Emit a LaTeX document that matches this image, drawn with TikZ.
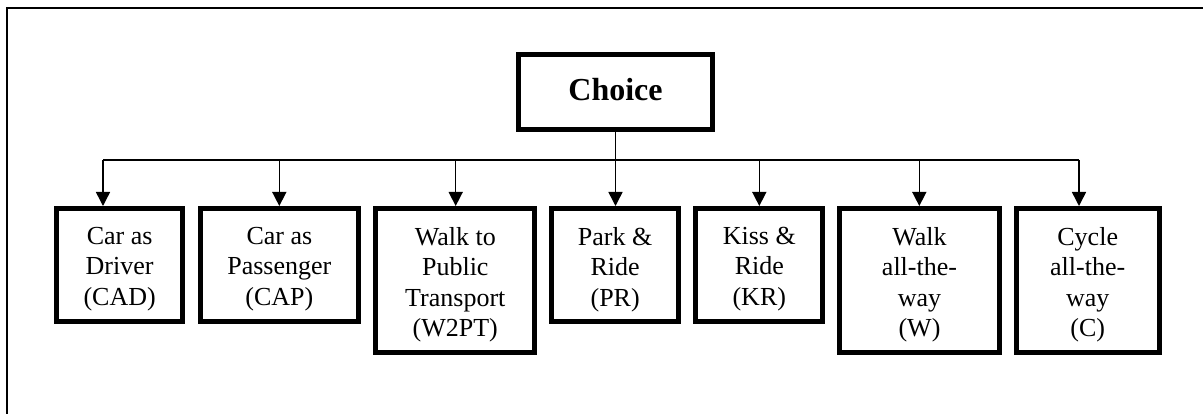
\documentclass[tikz,border=0pt]{standalone}
\usepackage{fontspec}
\setmainfont{Liberation Serif}
\usetikzlibrary{arrows.meta}
\tikzset{
  box/.style={draw, line width=5pt, minimum width=#1, inner sep=0pt},
  shortbox/.style={box=#1, minimum height=113pt},
  tallbox/.style={box=#1, minimum height=144pt},
  lbl/.style={anchor=north, inner sep=0pt, align=center, font=\fontsize{26}{30.5}\selectfont},
  conn/.style={line width=1.5pt},
  arr/.style={conn, -{Triangle[width=14pt,length=14pt]}},
  frame/.style={line width=1.6pt}
}
\begin{document}
\begin{tikzpicture}[x=1pt,y=-1pt]
\useasboundingbox (0,0) rectangle (1203,414);
% outer frame (cut off at right and bottom)
\coordinate (fbl) at (7,414);
\coordinate (ftl) at (7,8);
\coordinate (ftr) at (1203,8);
\draw[frame] (fbl) -- (ftl) -- (ftr);

% Choice node
\node[draw, line width=5pt, minimum width=194pt, minimum height=74.4pt, inner sep=0pt,
      font=\fontsize{32}{36}\selectfont\bfseries, text depth=6pt] (ch) at (615.5,92) {Choice};

% option boxes
\node[shortbox=125.7pt] (b1) at (119.65,265) {};
\node[shortbox=158.3pt] (b2) at (279.35,265) {};
\node[tallbox=159pt]    (b3) at (455.3,280.5) {};
\node[shortbox=126.7pt] (b4) at (615.15,265) {};
\node[shortbox=127pt]   (b5) at (759.3,265) {};
\node[tallbox=159.4pt]  (b6) at (919.5,280.5) {};
\node[tallbox=143pt]    (b7) at (1087.7,280.5) {};

% labels
\node[lbl] (t1) at ([yshift=-21pt]b1.north) {Car as\\Driver\\(CAD)};
\node[lbl] (t2) at ([yshift=-21pt]b2.north) {Car as\\Passenger\\(CAP)};
\node[lbl] (t3) at ([yshift=-21pt]b3.north) {Walk to\\Public\\Transport\\(W2PT)};
\node[lbl] (t4) at ([yshift=-21pt]b4.north) {Park \&\\Ride\\(PR)};
\node[lbl] (t5) at ([yshift=-21pt]b5.north) {Kiss \&\\Ride\\(KR)};
\node[lbl] (t6) at ([yshift=-21pt]b6.north) {Walk\\all-the-\\way\\(W)};
\node[lbl] (t7) at ([yshift=-21pt]b7.north) {Cycle\\all-the-\\way\\(C)};

% bus junctions
\coordinate (j1) at (103,160);
\coordinate (j2) at (279.3,160);
\coordinate (j3) at (455.7,160);
\coordinate (j4) at (616,160);
\coordinate (j5) at (759.3,160);
\coordinate (j6) at (919.3,160);
\coordinate (j7) at (1079,160);

\draw[conn] (j1) -- (j7);
\draw[arr] (ch.south) -- (ch.south |- b4.north);
\draw[arr] (j1) -- (j1 |- b1.north);
\draw[arr] (j2) -- (j2 |- b2.north);
\draw[arr] (j3) -- (j3 |- b3.north);
\draw[arr] (j5) -- (j5 |- b5.north);
\draw[arr] (j6) -- (j6 |- b6.north);
\draw[arr] (j7) -- (j7 |- b7.north);
\end{tikzpicture}
\end{document}
